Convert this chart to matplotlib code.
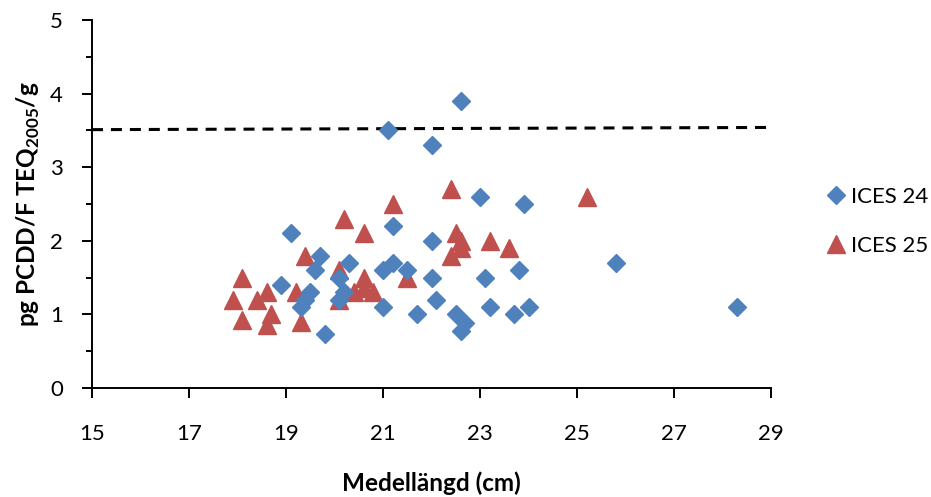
import numpy as np
import matplotlib
matplotlib.use("Agg")
import matplotlib.pyplot as plt

plt.rcParams['font.family'] = ['Lato', 'DejaVu Sans']
plt.rcParams['mathtext.fontset'] = 'custom'
plt.rcParams['mathtext.rm'] = 'Lato'
plt.rcParams['mathtext.bf'] = 'Lato:bold'

# ICES 24 (blue diamonds)
x24 = [18.9, 19.1, 19.3, 19.4, 19.5, 19.6, 19.7, 19.8, 20.1, 20.1, 20.2, 20.3,
       21.0, 21.0, 21.1, 21.2, 21.2, 21.5, 21.7, 22.0, 22.0, 22.0, 22.1, 22.5,
       22.6, 22.6, 22.7, 23.0, 23.1, 23.2, 23.7, 23.8, 23.9, 24.0, 25.8, 28.3]
y24 = [1.4, 2.1, 1.1, 1.2, 1.3, 1.6, 1.8, 0.73, 1.5, 1.2, 1.3, 1.7,
       1.6, 1.1, 3.5, 2.2, 1.7, 1.6, 1.0, 3.3, 2.0, 1.5, 1.2, 1.0,
       3.9, 0.77, 0.88, 2.6, 1.5, 1.1, 1.0, 1.6, 2.5, 1.1, 1.7, 1.1]

# ICES 25 (red triangles)
x25 = [17.9, 18.1, 18.1, 18.4, 18.6, 18.6, 18.7, 19.2, 19.3, 19.4, 20.1, 20.1,
       20.2, 20.4, 20.6, 20.6, 20.6, 20.8, 21.2, 21.5, 22.4, 22.4, 22.5, 22.6,
       22.6, 23.2, 23.6, 25.2]
y25 = [1.2, 1.5, 0.92, 1.2, 1.3, 0.85, 1.0, 1.3, 0.9, 1.8, 1.6, 1.2,
       2.3, 1.3, 1.36, 1.5, 2.1, 1.3, 2.5, 1.5, 2.7, 1.8, 2.1, 2.0,
       1.9, 2.0, 1.9, 2.6]

# limit line
limit_x = [15, 29]
limit_y = [3.51, 3.54]

fig = plt.figure(figsize=(9.31, 4.97), dpi=100)
ax = fig.add_axes([0.0988, 0.2193, 0.7294, 0.7405])

ax.plot(limit_x, limit_y, color='black', lw=2.2, dashes=(3.6, 2.6), zorder=1)
ax.plot(x24, y24, 'D', color='#4F81BD', ms=9, mec='#4F81BD', ls='none',
        label='ICES 24', zorder=3)
ax.plot(x25, y25, '^', color='#C0504D', ms=12.5, mec='#C0504D', ls='none',
        label='ICES 25', zorder=2)

ax.set_xlim(15, 29)
ax.set_ylim(0, 5)
ax.set_xticks(np.arange(15, 30, 2))
ax.set_yticks(np.arange(0, 6, 1))
ax.set_yticks(np.arange(0.5, 5, 1), minor=True)

for s in ['top', 'right']:
    ax.spines[s].set_visible(False)
for s in ['left', 'bottom']:
    ax.spines[s].set_linewidth(1.4)
ax.tick_params(axis='both', which='major', labelsize=16, width=1.4, length=7)
ax.tick_params(axis='y', which='minor', width=1.4, length=4.5)
ax.tick_params(axis='x', pad=19)
ax.tick_params(axis='y', pad=14)

ax.set_xlabel('Medellängd (cm)', fontsize=17.5, fontweight='bold', labelpad=20)
ax.set_ylabel(r'pg PCDD/F TEQ$_{\mathbf{2005}}$/g', fontsize=17.5,
              fontweight='bold', labelpad=6)

ax.legend(loc='center left', bbox_to_anchor=(1.053, 0.452), frameon=False,
          fontsize=16, handlelength=0.8, handletextpad=0.3, labelspacing=1.3)

fig.savefig('out.png', dpi=100)
